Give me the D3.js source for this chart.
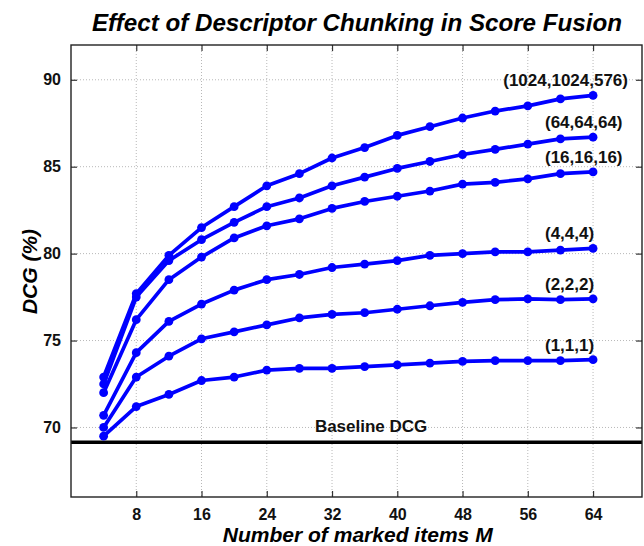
<!DOCTYPE html>
<html>
<head>
<meta charset="utf-8">
<script src="https://cdn.jsdelivr.net/npm/d3@7"></script>
<style>
  html, body { margin: 0; padding: 0; background: #fff; }
  svg { display: block; font-family: "Liberation Sans", Arial, sans-serif; }
</style>
</head>
<body>
<svg id="chart" width="644" height="546"></svg>
<script>
// ---- data ----
const markedItems = [4, 8, 12, 16, 20, 24, 28, 32, 36, 40, 44, 48, 52, 56, 60, 64];
const seriesNames = ["(1024,1024,576)", "(64,64,64)", "(16,16,16)", "(4,4,4)", "(2,2,2)", "(1,1,1)"];
const dcg1024 = [72.9, 77.7, 79.9, 81.5, 82.7, 83.9, 84.6, 85.5, 86.1, 86.8, 87.3, 87.8, 88.2, 88.5, 88.9, 89.1];
const dcg64   = [72.5, 77.5, 79.6, 80.8, 81.8, 82.7, 83.2, 83.9, 84.4, 84.9, 85.3, 85.7, 86.0, 86.3, 86.6, 86.7];
const dcg16   = [72.0, 76.2, 78.5, 79.8, 80.9, 81.6, 82.0, 82.6, 83.0, 83.3, 83.6, 84.0, 84.1, 84.3, 84.6, 84.7];
const dcg4    = [70.7, 74.3, 76.1, 77.1, 77.9, 78.5, 78.8, 79.2, 79.4, 79.6, 79.9, 80.0, 80.1, 80.1, 80.2, 80.3];
const dcg2    = [70.0, 72.9, 74.1, 75.1, 75.5, 75.9, 76.3, 76.5, 76.6, 76.8, 77.0, 77.2, 77.35, 77.4, 77.35, 77.4];
const dcg1    = [69.5, 71.2, 71.9, 72.7, 72.9, 73.3, 73.4, 73.4, 73.5, 73.6, 73.7, 73.8, 73.85, 73.85, 73.85, 73.9];
const baselineDCG = 69.15;
const xTicks = [8, 16, 24, 32, 40, 48, 56, 64];
const yTicks = [70, 75, 80, 85, 90];
const xDomain = [0, 70];
const yDomain = [66, 92];

const seriesValues = [dcg1024, dcg64, dcg16, dcg4, dcg2, dcg1];

// ---- layout ----
const pLeft = 71, pRight = 642, pTop = 45, pBottom = 497;
const svg = d3.select("#chart");
const x = d3.scaleLinear().domain(xDomain).range([pLeft, pRight]);
const y = d3.scaleLinear().domain(yDomain).range([pBottom, pTop]);
const blue = "#0000ff";

// grid
const grid = svg.append("g");
grid.selectAll("line.gx").data(xTicks).join("line").attr("class", "gx")
  .attr("x1", d => x(d)).attr("x2", d => x(d))
  .attr("y1", pTop).attr("y2", pBottom)
  .attr("stroke", "#b8b8b8").attr("stroke-width", 1).attr("stroke-dasharray", "1,2");
grid.selectAll("line.gy").data(yTicks).join("line").attr("class", "gy")
  .attr("y1", d => y(d)).attr("y2", d => y(d))
  .attr("x1", pLeft).attr("x2", pRight)
  .attr("stroke", "#b8b8b8").attr("stroke-width", 1).attr("stroke-dasharray", "1,2");

// axes (ticks inward)
const axB = svg.append("g").attr("transform", `translate(0,${pBottom})`)
  .call(d3.axisBottom(x).tickValues(xTicks).tickSizeInner(-6).tickSizeOuter(0).tickPadding(12));
const axT = svg.append("g").attr("transform", `translate(0,${pTop})`)
  .call(d3.axisTop(x).tickValues(xTicks).tickSizeInner(-6).tickSizeOuter(0).tickFormat(""));
const axL = svg.append("g").attr("transform", `translate(${pLeft},0)`)
  .call(d3.axisLeft(y).tickValues(yTicks).tickSizeInner(-6).tickSizeOuter(0).tickPadding(10));
const axR = svg.append("g").attr("transform", `translate(${pRight},0)`)
  .call(d3.axisRight(y).tickValues(yTicks).tickSizeInner(-6).tickSizeOuter(0).tickFormat(""));
[axB, axT, axL, axR].forEach(a => {
  a.select(".domain").remove();
  a.selectAll(".tick line").attr("stroke", "#333").attr("stroke-width", 1.2);
  a.selectAll("text").attr("font-family", "'Liberation Sans', Arial, sans-serif")
    .attr("font-size", 16).attr("font-weight", "bold").attr("fill", "#111");
});
axB.selectAll("text").attr("dy", "0.71em");

// baseline
svg.append("line")
  .attr("x1", x(xDomain[0])).attr("x2", x(xDomain[1]))
  .attr("y1", y(baselineDCG)).attr("y2", y(baselineDCG))
  .attr("stroke", "#000").attr("stroke-width", 3.5);
svg.append("text")
  .attr("x", x(29.9)).attr("y", y(baselineDCG) - 10.5)
  .attr("font-size", 17).attr("font-weight", "bold").attr("fill", "#111")
  .text("Baseline DCG");

// series
const line = d3.line().x((d, i) => x(markedItems[i])).y(d => y(d));
const gS = svg.append("g");
seriesValues.forEach((vals, si) => {
  gS.append("path").datum(vals)
    .attr("d", line).attr("fill", "none")
    .attr("stroke", blue).attr("stroke-width", 3.7).attr("stroke-linejoin", "round");
  gS.append("g").selectAll("circle").data(vals).join("circle")
    .attr("cx", (d, i) => x(markedItems[i])).attr("cy", d => y(d))
    .attr("r", 4.4).attr("fill", blue);
});

// series labels
const gL = svg.append("g");
seriesNames.forEach((name, si) => {
  const vals = seriesValues[si];
  const last = vals[vals.length - 1];
  const t = gL.append("text")
    .attr("y", y(last) - 15).attr("dy", "0.35em")
    .attr("font-size", 17).attr("font-weight", "bold").attr("fill", "#111")
    .text(name);
  if (si === 0) t.attr("x", 628).attr("text-anchor", "end");
  else t.attr("x", 545).attr("text-anchor", "start");
});

// frame
svg.append("rect")
  .attr("x", pLeft).attr("y", pTop).attr("width", pRight - pLeft).attr("height", pBottom - pTop)
  .attr("fill", "none").attr("stroke", "#222").attr("stroke-width", 1.4);

// titles
svg.append("text")
  .attr("x", 357).attr("y", 30.5).attr("text-anchor", "middle")
  .attr("font-size", 23).attr("font-weight", "bold").attr("font-style", "italic").attr("fill", "#000")
  .attr("textLength", 530).attr("lengthAdjust", "spacingAndGlyphs")
  .text("Effect of Descriptor Chunking in Score Fusion");
svg.append("text")
  .attr("x", 357.7).attr("y", 541.5).attr("text-anchor", "middle")
  .attr("font-size", 21).attr("font-weight", "bold").attr("font-style", "italic").attr("fill", "#000")
  .attr("textLength", 270).attr("lengthAdjust", "spacingAndGlyphs")
  .text("Number of marked items M");
svg.append("text")
  .attr("transform", "translate(37,271.5) rotate(-90)").attr("text-anchor", "middle")
  .attr("font-size", 21).attr("font-weight", "bold").attr("font-style", "italic").attr("fill", "#000")
  .text("DCG (%)");
</script>
</body>
</html>
